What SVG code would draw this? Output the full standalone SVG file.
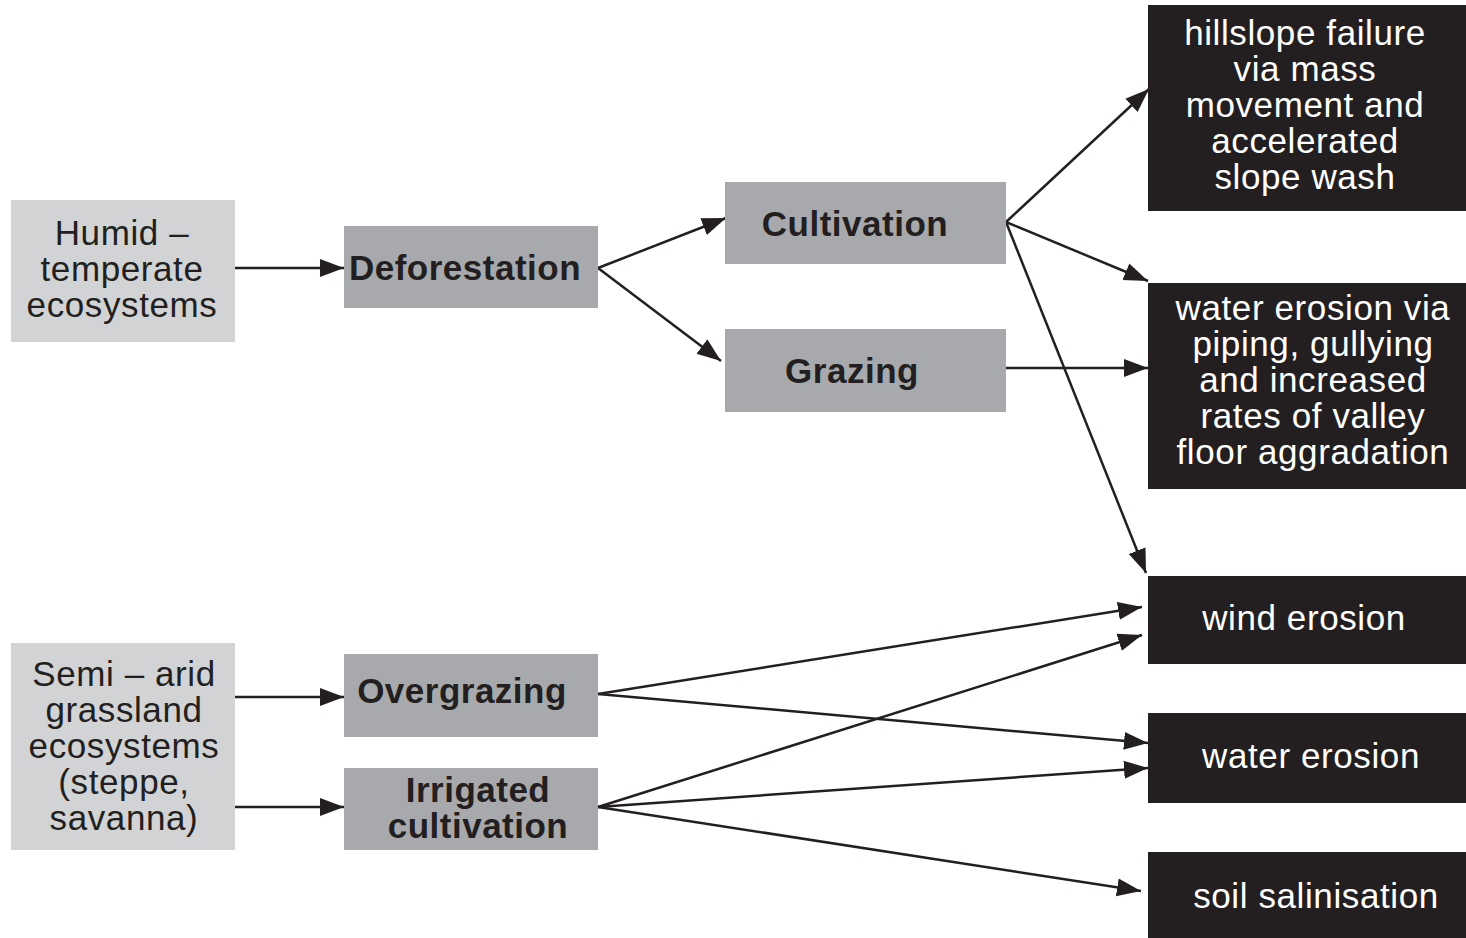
<svg xmlns="http://www.w3.org/2000/svg" width="1466" height="938" viewBox="0 0 1466 938">
<style>
.light{fill:#d1d3d4}
.mid{fill:#a7a9ac}
.dark{fill:#231f20}
.t{font-family:"Liberation Sans",Arial,sans-serif;font-size:35px;text-anchor:middle;fill:#231f20;letter-spacing:0.6px}
.b{font-weight:bold;letter-spacing:0.5px}
.w{fill:#ffffff}
.c{stroke:#231f20;stroke-width:2.5;fill:none;marker-end:url(#ah)}
</style>
<defs>
<marker id="ah" markerUnits="userSpaceOnUse" markerWidth="24" markerHeight="20" viewBox="0 0 24 20" refX="24" refY="10" orient="auto">
<path d="M0,1 L24,10 L0,19 Z" fill="#231f20"/>
</marker>
</defs>
<rect width="1466" height="938" fill="#ffffff"/>
<g id="connectors">
<line class="c" x1="235" y1="268" x2="344" y2="268"/>
<line class="c" x1="598" y1="268" x2="726" y2="218"/>
<line class="c" x1="598" y1="268" x2="721" y2="361"/>
<line class="c" x1="1006" y1="222" x2="1149" y2="89"/>
<line class="c" x1="1006" y1="222" x2="1148" y2="281"/>
<line class="c" x1="1006" y1="368" x2="1148" y2="368"/>
<line class="c" x1="1006" y1="222" x2="1146" y2="573"/>
<line class="c" x1="235" y1="697" x2="344" y2="697"/>
<line class="c" x1="235" y1="807" x2="344" y2="807"/>
<line class="c" x1="598" y1="694" x2="1142" y2="607"/>
<line class="c" x1="598" y1="694" x2="1148" y2="743"/>
<line class="c" x1="598" y1="807" x2="1142" y2="635"/>
<line class="c" x1="598" y1="807" x2="1148" y2="768"/>
<line class="c" x1="598" y1="807" x2="1141" y2="891"/>
</g>
<g id="humid">
<rect class="light" x="11" y="200" width="224" height="142"/>
<text class="t" x="122" y="245">Humid –</text>
<text class="t" x="122" y="281">temperate</text>
<text class="t" x="122" y="317">ecosystems</text>
</g>
<g id="deforestation">
<rect class="mid" x="344" y="226" width="254" height="82"/>
<text class="t b" x="465" y="280">Deforestation</text>
</g>
<g id="cultivation">
<rect class="mid" x="725" y="182" width="281" height="82"/>
<text class="t b" x="855" y="236">Cultivation</text>
</g>
<g id="grazing">
<rect class="mid" x="725" y="329" width="281" height="83"/>
<text class="t b" x="852" y="383">Grazing</text>
</g>
<g id="hillslope">
<rect class="dark" x="1148" y="5" width="318" height="206"/>
<text class="t w" x="1305" y="45">hillslope failure</text>
<text class="t w" x="1305" y="81">via mass</text>
<text class="t w" x="1305" y="117">movement and</text>
<text class="t w" x="1305" y="153">accelerated</text>
<text class="t w" x="1305" y="189">slope wash</text>
</g>
<g id="water-erosion-via">
<rect class="dark" x="1148" y="283" width="318" height="206"/>
<text class="t w" x="1313" y="320">water erosion via</text>
<text class="t w" x="1313" y="356">piping, gullying</text>
<text class="t w" x="1313" y="392">and increased</text>
<text class="t w" x="1313" y="428">rates of valley</text>
<text class="t w" x="1313" y="464">floor aggradation</text>
</g>
<g id="wind-erosion">
<rect class="dark" x="1148" y="576" width="318" height="88"/>
<text class="t w" x="1304" y="630">wind erosion</text>
</g>
<g id="water-erosion">
<rect class="dark" x="1148" y="713" width="318" height="90"/>
<text class="t w" x="1311" y="768">water erosion</text>
</g>
<g id="soil-salinisation">
<rect class="dark" x="1148" y="852" width="318" height="86"/>
<text class="t w" x="1316" y="908">soil salinisation</text>
</g>
<g id="semi-arid">
<rect class="light" x="11" y="643" width="224" height="207"/>
<text class="t" x="124" y="686">Semi – arid</text>
<text class="t" x="124" y="722">grassland</text>
<text class="t" x="124" y="758">ecosystems</text>
<text class="t" x="124" y="794">(steppe,</text>
<text class="t" x="124" y="830">savanna)</text>
</g>
<g id="overgrazing">
<rect class="mid" x="344" y="654" width="254" height="83"/>
<text class="t b" x="462" y="703">Overgrazing</text>
</g>
<g id="irrigated">
<rect class="mid" x="344" y="768" width="254" height="82"/>
<text class="t b" x="478" y="802">Irrigated</text>
<text class="t b" x="478" y="838">cultivation</text>
</g>
</svg>
